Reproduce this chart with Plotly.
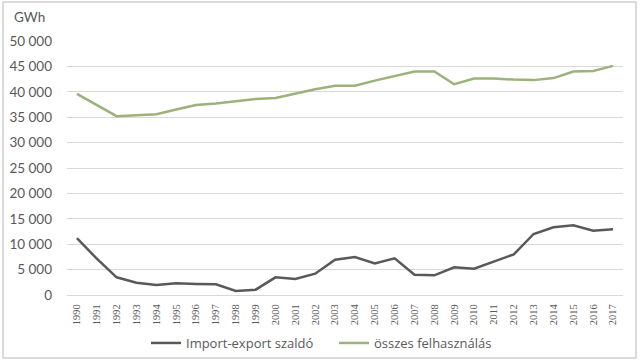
import plotly.graph_objects as go

years = [str(y) for y in range(1990, 2018)]
import_export = [11200, 7150, 3480, 2430, 1970, 2300, 2170, 2100, 790, 1050,
                 3480, 3150, 4200, 6960, 7480, 6230, 7220, 4000, 3870, 5450,
                 5180, 6630, 8000, 12010, 13320, 13710, 12660, 12930]
osszes = [39600, 37400, 35200, 35400, 35600, 36500, 37400, 37700, 38200, 38600,
          38800, 39700, 40500, 41200, 41200, 42200, 43100, 44000, 44000, 41500,
          42600, 42600, 42400, 42300, 42700, 44000, 44100, 45100]
y_ticks = [0, 5000, 10000, 15000, 20000, 25000, 30000, 35000, 40000, 45000, 50000]
series_names = ["Import-export szaldó", "összes felhasználás"]
unit_label = "GWh"

L, R, T, B = 67, 17, 41, 68
W, H = 640, 363
pw, ph = W - L - R, H - T - B

fig = go.Figure()
fig.add_trace(go.Scatter(x=years, y=import_export, mode="lines", name=series_names[0],
                         line=dict(color="#595959", width=2.5), legend="legend"))
fig.add_trace(go.Scatter(x=years, y=osszes, mode="lines", name=series_names[1],
                         line=dict(color="#9BB27A", width=2.5), legend="legend2"))

def px(x):
    return (x - L) / pw

def py(y):
    return (H - B - y) / ph

legend_font = dict(size=13, family="Open Sans", color="#595959")

fig.update_layout(
    width=W, height=H,
    margin=dict(l=L, r=R, t=T, b=B, autoexpand=False),
    paper_bgcolor="white", plot_bgcolor="white",
    separators=", ",
    font=dict(family="Lato", color="#595959", size=13),
    showlegend=True,
    legend=dict(orientation="h", x=px(146), xanchor="left", y=py(343), yanchor="middle",
                font=legend_font, itemwidth=30, bgcolor="rgba(0,0,0,0)"),
    legend2=dict(orientation="h", x=px(334), xanchor="left", y=py(343), yanchor="middle",
                 font=legend_font, itemwidth=30, bgcolor="rgba(0,0,0,0)"),
    xaxis=dict(type="category", range=[-0.5, 27.5], tickangle=-90, showgrid=False,
               showline=True, linecolor="#d9d9d9", linewidth=1, ticks="",
               tickfont=dict(size=10.5, family="Liberation Serif", color="#595959"),
               ticklabelstandoff=4, automargin=False),
    yaxis=dict(range=[0, 50000], tickvals=y_ticks, tickformat=",.0f",
               showgrid=True, gridcolor="#d9d9d9", gridwidth=1, zeroline=False,
               showline=False, ticks="", ticklabelstandoff=14, automargin=False,
               tickfont=dict(size=13.5, color="#595959")),
    annotations=[dict(text=unit_label, xref="paper", yref="paper", x=px(12), y=py(17),
                      xanchor="left", yanchor="middle", showarrow=False,
                      font=dict(size=13.5, color="#595959"))],
    shapes=[dict(type="rect", xref="paper", yref="paper",
                 x0=px(3), x1=px(636), y0=py(358), y1=py(2),
                 line=dict(color="#d0d0d0", width=1.5), layer="below")],
)

fig.write_html("out.html", config={"displayModeBar": False},
               post_script="document.body.style.margin='0px';")
